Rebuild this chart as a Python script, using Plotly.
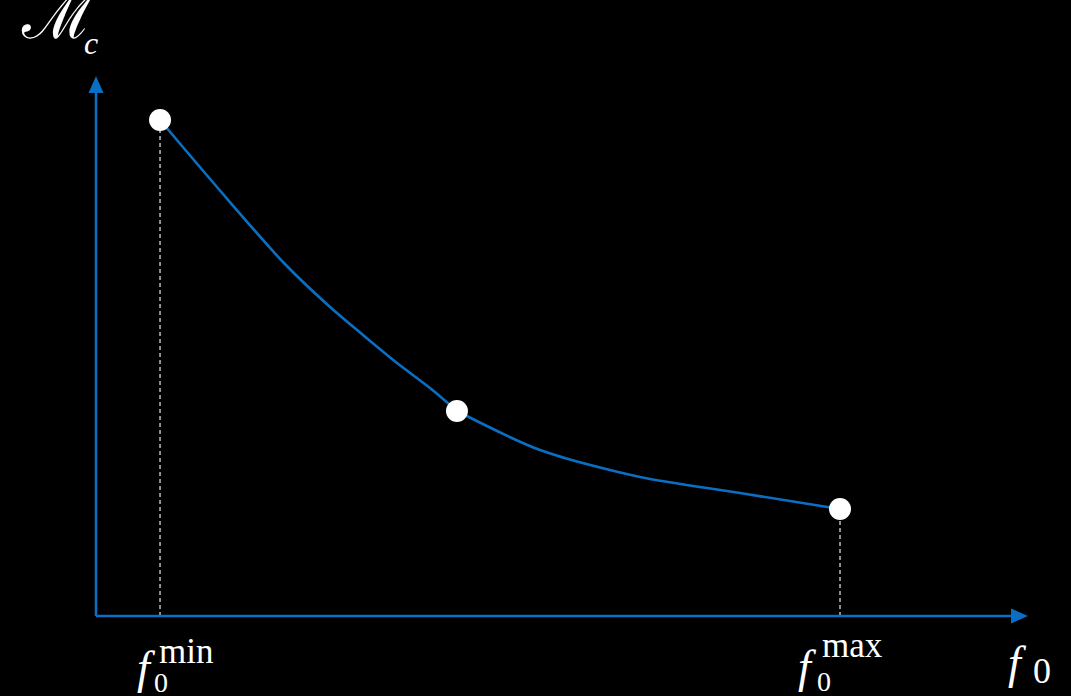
import plotly.graph_objects as go

# Curve samples (arbitrary units, no ticks on the axes); the curve is
# made of two smooth pieces that meet at the intermediate point.
left_x = [0.687, 1.298, 2.006, 2.511, 2.865, 3.230, 3.584, 3.873]
left_y = [9.185, 7.944, 6.556, 5.722, 5.204, 4.685, 4.222, 3.796]
right_x = [3.873, 4.764, 5.837, 6.910, 7.983]
right_y = [3.796, 3.074, 2.574, 2.278, 1.981]

# Highlighted points: f0_min, an intermediate value, f0_max
point_x = [0.687, 3.873, 7.983]
point_y = [9.185, 3.796, 1.981]

X_END = 10.0   # tip of the horizontal axis arrow
Y_END = 10.0   # tip of the vertical axis arrow

AXIS_BLUE = "#0a6fc2"
W, H = 1071, 696
PX_X = 93.2    # pixels per x unit
PX_Y = 54.0    # pixels per y unit
X0_PX, Y0_PX = 96, 616  # pixel position of the origin

x_range = [-X0_PX / PX_X, (W - X0_PX) / PX_X]
y_range = [(Y0_PX - H) / PX_Y, Y0_PX / PX_Y]


def ux(px):
    return px / PX_X


def uy(px):
    return px / PX_Y


def at_row(py):
    """Data y of a screen row measured from the top of the figure."""
    return uy(Y0_PX - py)


fig = go.Figure()

# dashed drop lines from the end points to the horizontal axis
for xi, yi in [(point_x[0], point_y[0]), (point_x[-1], point_y[-1])]:
    fig.add_trace(go.Scatter(
        x=[xi, xi], y=[0, yi], mode="lines",
        line=dict(color="#d9d9d9", width=1.3, dash="4px,3px"),
        hoverinfo="skip", showlegend=False))

for xs, ys in [(left_x, left_y), (right_x, right_y)]:
    fig.add_trace(go.Scatter(
        x=xs, y=ys, mode="lines",
        line=dict(color=AXIS_BLUE, width=2.6, shape="spline", smoothing=0.8),
        hoverinfo="skip", showlegend=False))

fig.add_trace(go.Scatter(
    x=point_x, y=point_y, mode="markers",
    marker=dict(color="white", size=22, line=dict(width=0)),
    showlegend=False))

# axes with arrow heads
head_len, head_half = 17, 7.5
shapes = [
    dict(type="line", xref="x", yref="y", x0=0, y0=0, x1=0, y1=Y_END - uy(head_len) + uy(1),
         line=dict(color=AXIS_BLUE, width=2.6)),
    dict(type="line", xref="x", yref="y", x0=0, y0=0, x1=X_END - ux(head_len) + ux(1), y1=0,
         line=dict(color=AXIS_BLUE, width=2.6)),
    dict(type="path", xref="x", yref="y",
         path=(f"M {-ux(head_half)} {Y_END - uy(head_len)} L {ux(head_half)} {Y_END - uy(head_len)} "
               f"L 0 {Y_END} Z"),
         fillcolor=AXIS_BLUE, line=dict(width=0)),
    dict(type="path", xref="x", yref="y",
         path=(f"M {X_END - ux(head_len)} {-uy(head_half)} L {X_END - ux(head_len)} {uy(head_half)} "
               f"L {X_END} 0 Z"),
         fillcolor=AXIS_BLUE, line=dict(width=0)),
]

SERIF = "Liberation Serif, DejaVu Serif, serif"
annotations = []


def label(text, x, y, size, xshift=0, xanchor="center", family=SERIF):
    annotations.append(dict(
        text=text, x=x, y=y, xref="x", yref="y", showarrow=False,
        xanchor=xanchor, yanchor="middle", xshift=xshift,
        font=dict(family=family, size=size, color="white")))


# vertical axis title: script M with italic subscript c
label("ℳ", ux(57 - X0_PX), at_row(16), 62, family="DejaVu Serif, serif")
label("<i>c</i>", ux(91 - X0_PX), at_row(43), 32)

# f0 min / max labels under the end points
label("<i>f</i>", point_x[0], at_row(667), 46, xshift=-14)
label("0", point_x[0], at_row(682), 28, xshift=1)
label("min", point_x[0], at_row(651), 35, xshift=-3, xanchor="left")

label("<i>f</i>", point_x[-1], at_row(666), 46, xshift=-33)
label("0", point_x[-1], at_row(681), 28, xshift=-16)
label("max", point_x[-1], at_row(645), 35, xshift=-20, xanchor="left")

# horizontal axis title
label("<i>f</i>", X_END, at_row(662), 46, xshift=-11)
label("0", X_END, at_row(671), 36, xshift=14)

fig.update_layout(
    width=W, height=H,
    margin=dict(l=0, r=0, t=0, b=0),
    paper_bgcolor="black", plot_bgcolor="black",
    xaxis=dict(range=x_range, visible=False, fixedrange=True),
    yaxis=dict(range=y_range, visible=False, fixedrange=True),
    shapes=shapes, annotations=annotations,
    showlegend=False,
)

fig.write_html("out.html")
